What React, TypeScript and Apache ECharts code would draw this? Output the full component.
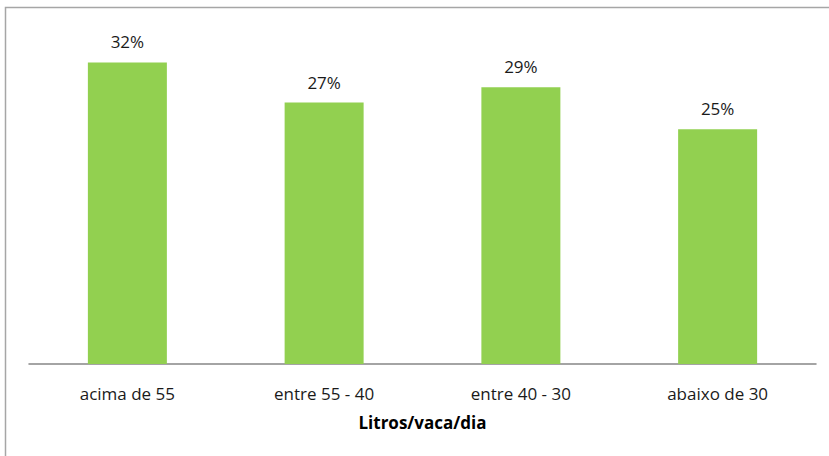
import React, { useEffect, useRef } from "react";
import * as echarts from "echarts";

const categories = ["acima de 55", "entre 55 - 40", "entre 40 - 30", "abaixo de 30"];
const shares = [0.316, 0.274, 0.29, 0.246];
const axisTitle = "Litros/vaca/dia";

export default function App() {
  const ref = useRef<HTMLDivElement>(null);
  useEffect(() => {
    if (!ref.current) return;
    const chart = echarts.init(ref.current, null, { renderer: "svg" });
    chart.setOption({
      animation: false,
      backgroundColor: "#ffffff",
      textStyle: { fontFamily: "Open Sans" },
      grid: { left: 29, right: 13, top: 30, bottom: 92 },
      graphic: [
        {
          type: "rect",
          shape: { x: 5.5, y: 7.5, width: 840, height: 470 },
          style: { fill: "none", stroke: "#a6a6a6", lineWidth: 1.5 },
          silent: true,
        },
      ],
      xAxis: {
        type: "category",
        data: categories,
        axisTick: { show: false },
        axisLine: { lineStyle: { color: "#868686", width: 1.5 } },
        axisLabel: { color: "#1a1a1a", fontSize: 17, margin: 21, fontFamily: "Open Sans" },
        name: axisTitle,
        nameLocation: "middle",
        nameGap: 50,
        nameTextStyle: { color: "#000000", fontSize: 17, fontWeight: "bold", fontFamily: "Open Sans" },
      },
      yAxis: {
        type: "value",
        min: 0,
        max: 0.35,
        show: false,
        splitLine: { show: false },
      },
      series: [
        {
          type: "bar",
          data: shares,
          barWidth: 79,
          itemStyle: { color: "#92D050" },
          label: {
            show: true,
            position: "top",
            distance: 12,
            color: "#1a1a1a",
            fontSize: 17,
            fontFamily: "Open Sans",
            formatter: (p: any) => Math.round(p.value * 100) + "%",
          },
        },
      ],
    });
    return () => chart.dispose();
  }, []);
  return (
    <div
      ref={ref}
      style={{ position: "absolute", left: 0, top: 0, width: 829, height: 456 }}
    />
  );
}
